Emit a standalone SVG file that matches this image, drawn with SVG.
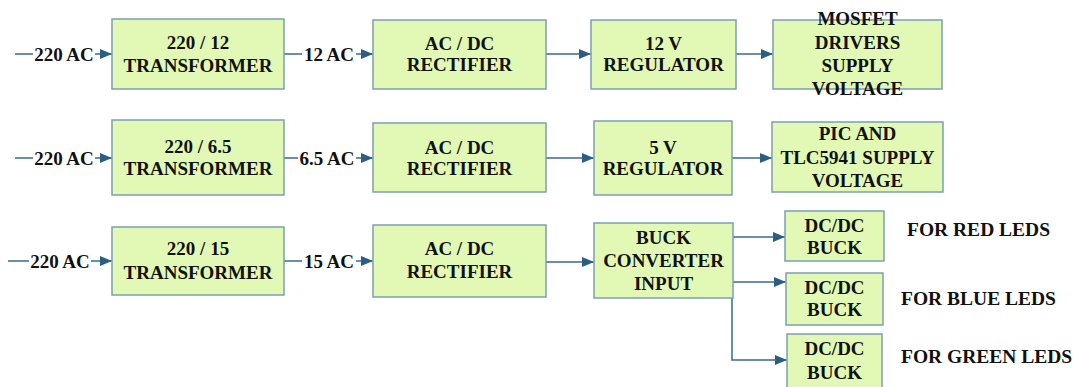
<svg xmlns="http://www.w3.org/2000/svg" width="1079" height="387" viewBox="0 0 1079 387">
<style>
.box{fill:#e2f9b6;stroke:#7b9fb2;stroke-width:1.5}
.ln{fill:none;stroke:#3a6890;stroke-width:1.5}
text{font-family:"Liberation Serif","Times New Roman",serif;font-weight:bold;font-size:19px;fill:#111;text-anchor:middle}
.lbl{font-size:19.5px;text-anchor:start}
</style>
<defs>
<marker id="arr" viewBox="0 0 12 10" refX="12" refY="5" markerWidth="12" markerHeight="10" markerUnits="userSpaceOnUse" orient="auto">
<path d="M0,0 L12,5 L0,10 Z" fill="#2c5d85"/>
</marker>
</defs>
<rect width="1079" height="387" fill="#fff"/>
<g id="connectors">
<path class="ln" d="M15,54 H33"/>
<path class="ln" d="M95,54 H112" marker-end="url(#arr)"/>
<path class="ln" d="M284,54 H302"/>
<path class="ln" d="M356,54 H373" marker-end="url(#arr)"/>
<path class="ln" d="M546,54 H591" marker-end="url(#arr)"/>
<path class="ln" d="M736,54 H773" marker-end="url(#arr)"/>
<path class="ln" d="M15,158 H33"/>
<path class="ln" d="M95,158 H112" marker-end="url(#arr)"/>
<path class="ln" d="M284,158 H298"/>
<path class="ln" d="M356,158 H373" marker-end="url(#arr)"/>
<path class="ln" d="M546,158 H594" marker-end="url(#arr)"/>
<path class="ln" d="M732,158 H772" marker-end="url(#arr)"/>
<path class="ln" d="M8,261 H29"/>
<path class="ln" d="M91,261 H112" marker-end="url(#arr)"/>
<path class="ln" d="M284,261 H302"/>
<path class="ln" d="M356,261 H373" marker-end="url(#arr)"/>
<path class="ln" d="M546,262 H594" marker-end="url(#arr)"/>
<path class="ln" d="M733,237 H785" marker-end="url(#arr)"/>
<path class="ln" d="M733,282 H786" marker-end="url(#arr)"/>
<path class="ln" d="M732,282 V360 H787" marker-end="url(#arr)"/>
</g>
<g id="in1"><text x="64" y="60.5">220 AC</text></g>
<g id="ac12"><text x="329" y="60.5">12 AC</text></g>
<g id="in2"><text x="64" y="164.5">220 AC</text></g>
<g id="ac65"><text x="327" y="164.5">6.5 AC</text></g>
<g id="in3"><text x="60" y="267.5">220 AC</text></g>
<g id="ac15"><text x="329" y="267.5">15 AC</text></g>
<g id="trans12"><rect class="box" x="112" y="19" width="172" height="70"/><text x="198" y="48.5">220 / 12</text><text x="198" y="71.5">TRANSFORMER</text></g>
<g id="rect1"><rect class="box" x="373" y="20" width="173" height="69"/><text x="459.5" y="49.5">AC / DC</text><text x="459.5" y="71">RECTIFIER</text></g>
<g id="reg12"><rect class="box" x="591" y="20" width="145" height="69"/><text x="663.5" y="49.5">12 V</text><text x="663.5" y="71">REGULATOR</text></g>
<g id="mosfet"><rect class="box" x="773" y="20" width="169" height="69"/><text x="857.5" y="24.5">MOSFET</text><text x="857.5" y="48.5">DRIVERS</text><text x="857.5" y="71.5">SUPPLY</text><text x="857.5" y="94.5">VOLTAGE</text></g>
<g id="trans65"><rect class="box" x="112" y="120" width="172" height="75"/><text x="198" y="152.5">220 / 6.5</text><text x="198" y="174.5">TRANSFORMER</text></g>
<g id="rect2"><rect class="box" x="373" y="123" width="173" height="69"/><text x="459.5" y="153.5">AC / DC</text><text x="459.5" y="174.5">RECTIFIER</text></g>
<g id="reg5"><rect class="box" x="594" y="121" width="138" height="74"/><text x="663" y="153.5">5 V</text><text x="663" y="174.5">REGULATOR</text></g>
<g id="pic"><rect class="box" x="772" y="122" width="171" height="70"/><text x="857.5" y="139.5">PIC AND</text><text x="857.5" y="164">TLC5941 SUPPLY</text><text x="857.5" y="186.5">VOLTAGE</text></g>
<g id="trans15"><rect class="box" x="112" y="227" width="172" height="68"/><text x="198" y="254.5">220 / 15</text><text x="198" y="278.5">TRANSFORMER</text></g>
<g id="rect3"><rect class="box" x="373" y="225" width="173" height="72"/><text x="459.5" y="254.5">AC / DC</text><text x="459.5" y="277.5">RECTIFIER</text></g>
<g id="buck"><rect class="box" x="594" y="223" width="139" height="75"/><text x="663.5" y="243.5">BUCK</text><text x="663.5" y="266.5">CONVERTER</text><text x="663.5" y="289.5">INPUT</text></g>
<g id="buck1"><rect class="box" x="785" y="211" width="99" height="50"/><text x="834.5" y="231.5">DC/DC</text><text x="834.5" y="253.5">BUCK</text></g>
<g id="buck2"><rect class="box" x="786" y="273" width="97" height="52"/><text x="834.5" y="293.5">DC/DC</text><text x="834.5" y="315.5">BUCK</text></g>
<g id="buck3"><rect class="box" x="787" y="334" width="95" height="56"/><text x="834.5" y="354.5">DC/DC</text><text x="834.5" y="378.5">BUCK</text></g>
<g id="lblred"><text class="lbl" x="907" y="235.5">FOR RED LEDS</text></g>
<g id="lblblue"><text class="lbl" x="901" y="304.5">FOR BLUE LEDS</text></g>
<g id="lblgreen"><text class="lbl" x="901" y="362.5">FOR GREEN LEDS</text></g>
</svg>
